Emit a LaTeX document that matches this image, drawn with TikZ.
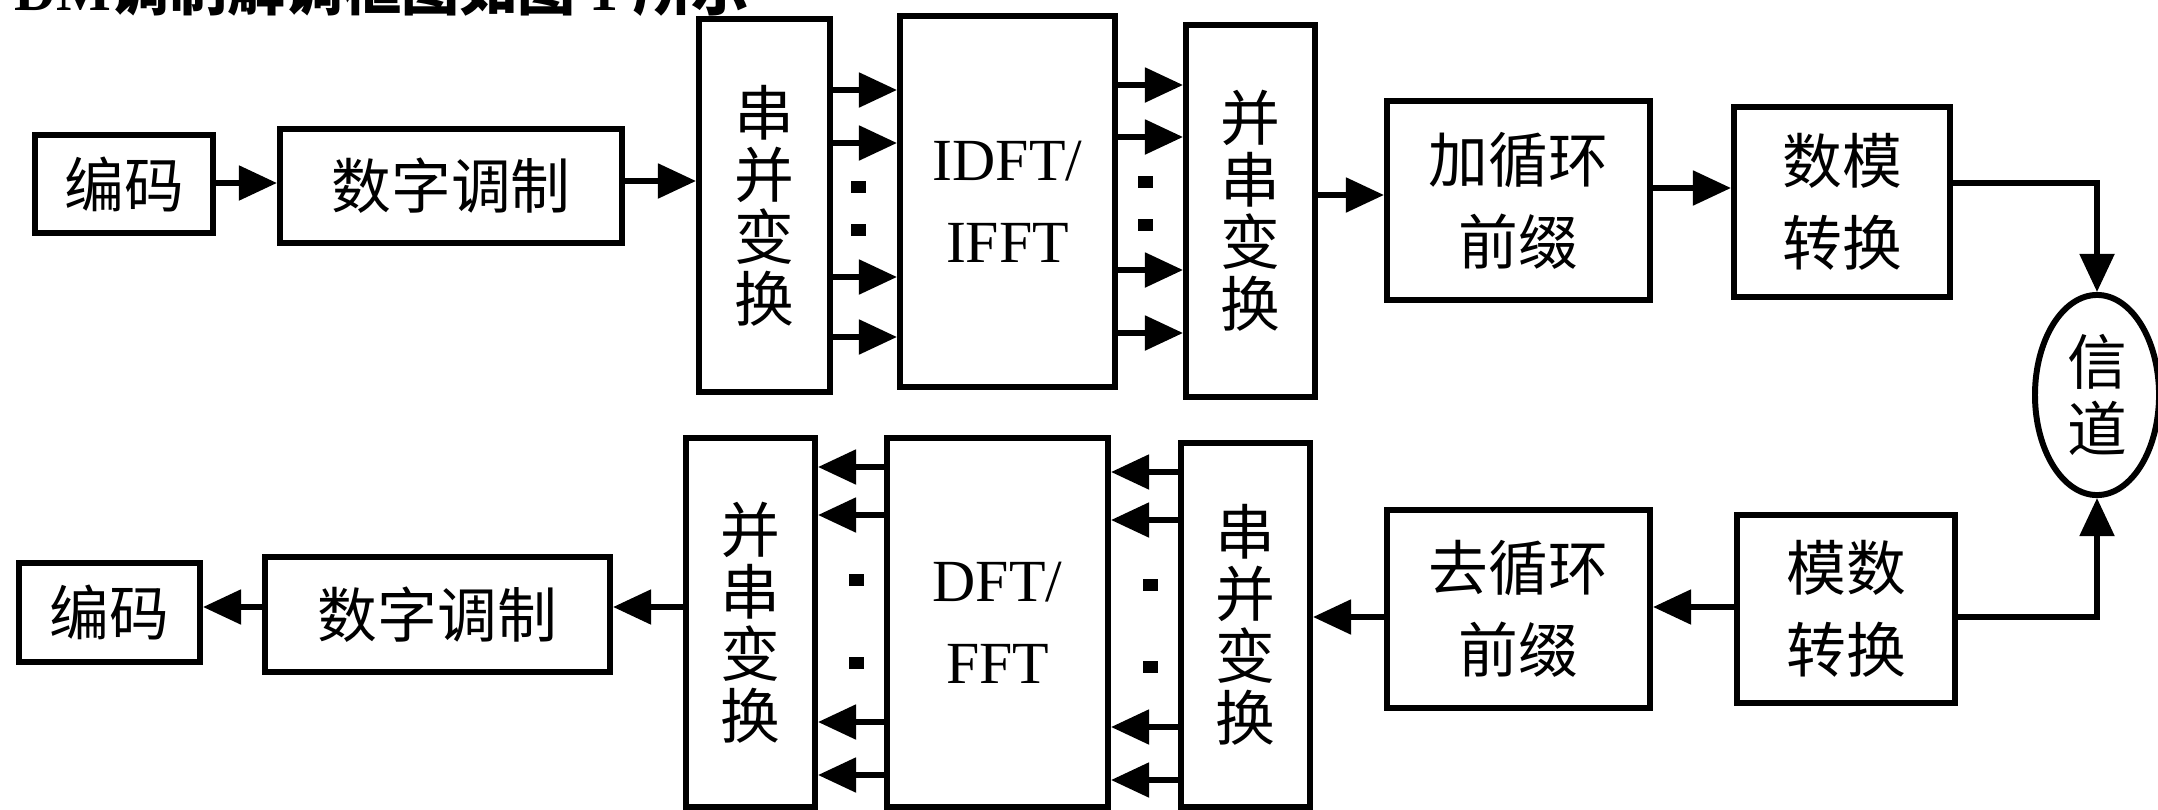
\documentclass[tikz,border=0pt]{standalone}
\usepackage{fontspec}
\setmainfont{Liberation Serif}
\newfontfamily\cjk{Noto Sans CJK SC}
\usetikzlibrary{arrows.meta,shapes.geometric}
\begin{document}
\begin{tikzpicture}[x=0.01cm,y=-0.01cm,
  box/.style={draw, line width=1.7pt, inner sep=0pt, align=center,
    font=\cjk\fontsize{17}{23.3}\selectfont},
  vbox/.style={box, font=\cjk\fontsize{17}{17.6}\selectfont},
  lat/.style={box, font=\fontsize{17}{23.3}\selectfont},
  arr/.style={line width=1.5pt, -{Triangle[length=0.38cm,width=0.34cm]}},
  sq/.style={fill, rectangle, minimum width=0.15cm, minimum height=0.12cm, inner sep=0pt}]
\useasboundingbox (0,0) rectangle (2158,809);
\clip (0,0) rectangle (2158,809);

% caption (cut off at the top)
\node[anchor=base east, inner sep=0pt, font=\bfseries\fontsize{16.5}{18}\selectfont] (cap) at (750,11)
  {OFDM{\cjk\bfseries 调制解调框图如图} 1 {\cjk\bfseries 所示}};

% top row
\node[box, minimum width=1.78cm, minimum height=0.98cm] (enc1) at (124,184) {编码};
\node[box, minimum width=3.42cm, minimum height=1.13cm] (mod1) at (451,186) {数字调制};
\node[vbox, minimum width=1.31cm, minimum height=3.73cm] (sp1) at (764.5,205.5) {串\\并\\变\\换};
\node[lat, minimum width=2.15cm, minimum height=3.71cm] (idft) at (1007.5,201.5) {IDFT/\\IFFT};
\node[vbox, minimum width=1.29cm, minimum height=3.72cm] (ps1) at (1250.5,211) {并\\串\\变\\换};
\node[box, minimum width=2.63cm, minimum height=1.99cm] (addcp) at (1518.5,200.5) {加循环\\前缀};
\node[box, minimum width=2.16cm, minimum height=1.90cm] (dac) at (1842,202) {数模\\转换};
\node[draw, ellipse, line width=1.7pt, inner sep=0pt, minimum width=1.24cm, minimum height=2.0cm,
  align=center, font=\cjk\fontsize{17}{19}\selectfont] (chan) at (2097,395) {信\\道};

% bottom row
\node[box, minimum width=1.81cm, minimum height=0.99cm] (enc2) at (109.5,612.5) {编码};
\node[box, minimum width=3.45cm, minimum height=1.15cm] (mod2) at (437.5,614.5) {数字调制};
\node[vbox, minimum width=1.29cm, minimum height=3.69cm] (ps2) at (750.5,622.5) {并\\串\\变\\换};
\node[lat, minimum width=2.21cm, minimum height=3.69cm] (dft) at (997.5,622.5) {DFT/\\FFT};
\node[vbox, minimum width=1.29cm, minimum height=3.64cm] (sp2) at (1245.5,625) {串\\并\\变\\换};
\node[box, minimum width=2.63cm, minimum height=1.98cm] (rmcp) at (1518.5,609) {去循环\\前缀};
\node[box, minimum width=2.18cm, minimum height=1.88cm] (adc) at (1846,609) {模数\\转换};

% top connectors
\draw[arr] (enc1.east |- 0,183) -- (mod1.west |- 0,183);
\draw[arr] (mod1.east |- 0,181) -- (sp1.west |- 0,181);
\foreach \yy in {90,143,277,337} \draw[arr] (sp1.east |- 0,\yy) -- (idft.west |- 0,\yy);
\foreach \yy in {187,230} \node[sq] (da\yy) at (858,\yy) {};
\foreach \yy in {85,137,270,333} \draw[arr] (idft.east |- 0,\yy) -- (ps1.west |- 0,\yy);
\foreach \yy in {182,225} \node[sq] (db\yy) at (1145,\yy) {};
\draw[arr] (ps1.east |- 0,195) -- (addcp.west |- 0,195);
\draw[arr] (addcp.east |- 0,188) -- (dac.west |- 0,188);
\draw[arr] (dac.east |- 0,183) -| (chan.north);

% bottom connectors
\draw[arr] (adc.east |- 0,617) -| (chan.south);
\draw[arr] (adc.west |- 0,607) -- (rmcp.east |- 0,607);
\draw[arr] (rmcp.west |- 0,617) -- (sp2.east |- 0,617);
\foreach \yy in {472,520,727,780} \draw[arr] (sp2.west |- 0,\yy) -- (dft.east |- 0,\yy);
\foreach \yy in {585,667} \node[sq] (dc\yy) at (1150,\yy) {};
\foreach \yy in {467,515,722,775} \draw[arr] (dft.west |- 0,\yy) -- (ps2.east |- 0,\yy);
\foreach \yy in {580,663} \node[sq] (dd\yy) at (856,\yy) {};
\draw[arr] (ps2.west |- 0,607) -- (mod2.east |- 0,607);
\draw[arr] (mod2.west |- 0,607) -- (enc2.east |- 0,607);
\end{tikzpicture}
\end{document}
